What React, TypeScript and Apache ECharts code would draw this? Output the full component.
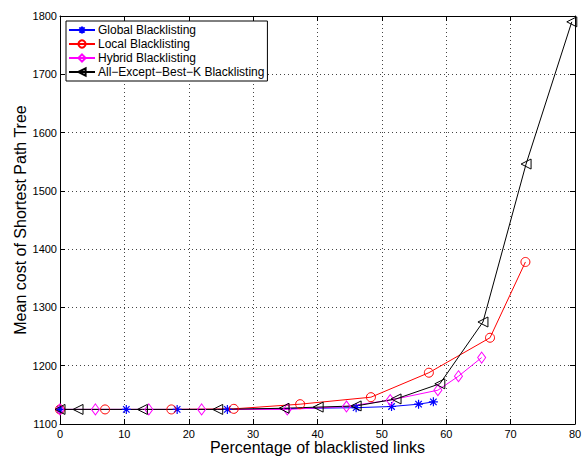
import React, { useEffect, useRef } from "react";
import * as echarts from "echarts";

const globalData: [number, number][] = [
  [0, 1125], [10.3, 1125], [18.2, 1125], [26, 1125], [46, 1128], [51.5, 1130], [55.7, 1134], [58, 1138],
];
const localData: [number, number][] = [
  [0, 1125], [7, 1125], [17.3, 1125], [27, 1126], [37.3, 1134], [48.3, 1146], [57.3, 1188], [66.8, 1248], [72.3, 1378],
];
const hybridData: [number, number][] = [
  [0, 1125], [5.5, 1125], [13.8, 1125], [22, 1125], [35.3, 1125], [44.5, 1130], [51.3, 1141], [58.7, 1158], [61.9, 1182], [65.5, 1214],
];
const allExceptData: [number, number][] = [
  [0, 1125], [2.8, 1125], [12.8, 1125], [24.5, 1125], [34.8, 1127], [40.1, 1129], [46, 1131], [52.2, 1143], [59, 1169], [65.7, 1275], [72.4, 1546], [79.5, 1790],
];
const seriesNames = [
  "Global Blacklisting",
  "Local Blacklisting",
  "Hybrid Blacklisting",
  "All\u2212Except\u2212Best\u2212K Blacklisting",
];
const xTitle = "Percentage of blacklisted links";
const yTitle = "Mean cost of Shortest Path Tree";

const STAR = "path://M0,-5L0,5M-5,0L5,0M-3.6,-3.6L3.6,3.6M-3.6,3.6L3.6,-3.6";
const FONT = "Liberation Sans, Arial, sans-serif";

export default function App() {
  const ref = useRef<HTMLDivElement>(null);
  useEffect(() => {
    if (!ref.current) return;
    const chart = echarts.init(ref.current, null, { renderer: "svg" });
    const gridLine = { show: true, lineStyle: { color: "#444", type: [1, 3] as any, width: 1 } };
    const axisCommon = {
      type: "value" as const,
      axisLine: { show: true, onZero: false, lineStyle: { color: "#000", width: 1 } },
      axisTick: { show: true, inside: true, length: 5, lineStyle: { color: "#000" } },
    };
    const mk = (name: string, data: [number, number][], color: string, symbol: string, size: number | number[], bw: number, rotate = 0) => ({
      name,
      type: "line",
      data,
      symbol,
      symbolSize: size,
      symbolRotate: rotate,
      showAllSymbol: true,
      lineStyle: { color, width: 1 },
      itemStyle: { color: "rgba(255,255,255,0)", borderColor: color, borderWidth: bw },
      emphasis: { disabled: true },
    });
    chart.setOption({
      animation: false,
      textStyle: { fontFamily: FONT },
      grid: { left: 60, right: 9, top: 16, bottom: 33, containLabel: false, outerBoundsMode: "none" },
      legend: {
        show: true,
        orient: "vertical",
        left: 66,
        top: 21,
        backgroundColor: "#fff",
        borderColor: "#000",
        borderWidth: 1,
        borderRadius: 0,
        padding: [3, 3, 3, 2],
        itemGap: 2,
        itemWidth: 26,
        itemHeight: 9,
        textStyle: { fontSize: 12, color: "#000", fontFamily: FONT, padding: [0, 0, 0, -2] },
        data: seriesNames,
      },
      xAxis: [
        {
          ...axisCommon,
          position: "bottom",
          min: 0,
          max: 80,
          interval: 10,
          splitLine: gridLine,
          axisLabel: { color: "#000", fontSize: 11, margin: 4, fontFamily: FONT },
          name: xTitle,
          nameLocation: "middle",
          nameGap: 15,
          nameMoveOverlap: false,
          nameTextStyle: { fontSize: 16, color: "#000", fontFamily: FONT },
        },
        {
          ...axisCommon,
          position: "top",
          min: 0,
          max: 80,
          interval: 10,
          splitLine: { show: false },
          axisLabel: { show: false },
        },
      ],
      yAxis: [
        {
          ...axisCommon,
          position: "left",
          min: 1100,
          max: 1800,
          interval: 100,
          splitLine: gridLine,
          axisLabel: { color: "#000", fontSize: 11, margin: 3, fontFamily: FONT, formatter: (v: number) => String(v) },
          name: yTitle,
          nameLocation: "middle",
          nameGap: 32,
          nameMoveOverlap: false,
          nameTextStyle: { fontSize: 16, color: "#000", fontFamily: FONT },
        },
        {
          ...axisCommon,
          position: "right",
          min: 1100,
          max: 1800,
          interval: 100,
          splitLine: { show: false },
          axisLabel: { show: false },
        },
      ],
      series: [
        mk(seriesNames[0], globalData, "#0000ff", STAR, 9, 1.2),
        mk(seriesNames[1], localData, "#ff0000", "circle", 9, 1),
        mk(seriesNames[2], hybridData, "#ff00ff", "diamond", [8, 11], 1),
        mk(seriesNames[3], allExceptData, "#000000", "triangle", [10, 10], 1, 90),
      ],
    });
    return () => chart.dispose();
  }, []);
  return <div ref={ref} style={{ width: 584, height: 457, position: "absolute", left: 0, top: 0, background: "#fff" }} />;
}
